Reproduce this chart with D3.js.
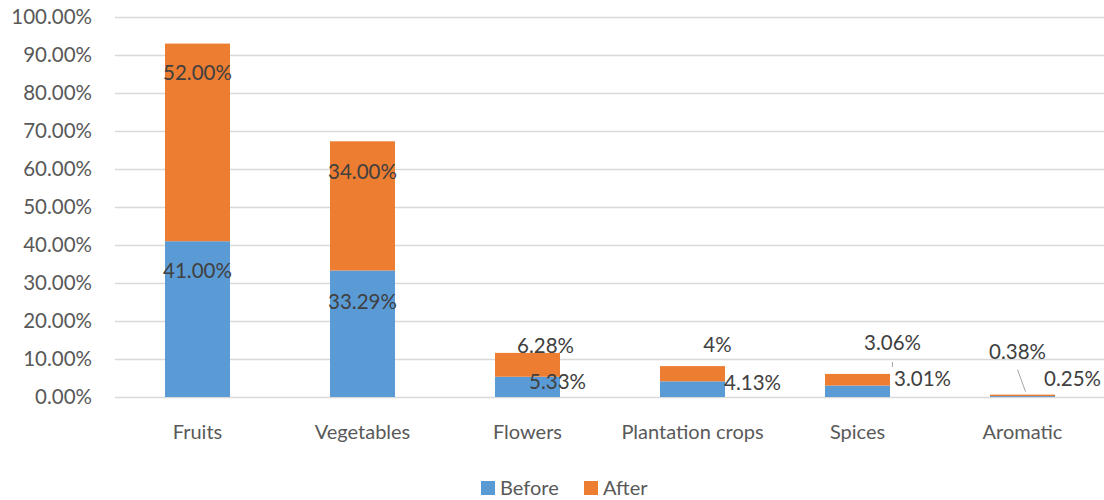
<!DOCTYPE html>
<html>
<head>
<meta charset="utf-8">
<script src="https://cdn.jsdelivr.net/npm/d3@7"></script>
<style>
  body { margin: 0; background: #fff; }
  text { font-family: Lato, "Open Sans", sans-serif; }
</style>
</head>
<body>
<script>
var categories = ["Fruits", "Vegetables", "Flowers", "Plantation crops", "Spices", "Aromatic"];
var before = [0.41, 0.3329, 0.0533, 0.0413, 0.0301, 0.0025];
var after = [0.52, 0.34, 0.0628, 0.04, 0.0306, 0.0038];
var beforeLabels = ["41.00%", "33.29%", "5.33%", "4.13%", "3.01%", "0.25%"];
var afterLabels = ["52.00%", "34.00%", "6.28%", "4%", "3.06%", "0.38%"];
var yTicks = [0, 0.1, 0.2, 0.3, 0.4, 0.5, 0.6, 0.7, 0.8, 0.9, 1.0];

// label nudges (px) relative to band centre / segment top, as placed in the original
var beforeNudge = [[0, 29], [0, 31], [30, 5], [60, 1], [65, -7], [50, -17]];
var afterNudge = [[0, 29], [0, 30], [18, -7], [25, -21], [35, -31], [-5, -43]];

var width = 1104,
    height = 500,
    plotLeft = 115, plotRight = 1105, plotTop = 17, plotBottom = 397;

var svg = d3.select("body").append("svg")
    .attr("width", width)
    .attr("height", height);

var x = d3.scaleBand()
    .domain(categories)
    .range([plotLeft, plotRight])
    .paddingInner(0.606)
    .paddingOuter(0.303);

var y = d3.scaleLinear()
    .domain([0, 1])
    .range([plotBottom, plotTop]);

// gridlines
svg.selectAll(".grid")
    .data(yTicks)
  .enter().append("line")
    .attr("x1", plotLeft)
    .attr("x2", plotRight)
    .attr("y1", function(d) { return Math.round(y(d)) + 0.5; })
    .attr("y2", function(d) { return Math.round(y(d)) + 0.5; })
    .attr("stroke", "#d9d9d9")
    .attr("stroke-width", 1.3);

svg.selectAll(".ytick")
    .data(yTicks)
  .enter().append("text")
    .attr("x", 92)
    .attr("y", function(d) { return y(d); })
    .attr("dy", "0.36em")
    .attr("text-anchor", "end")
    .attr("fill", "#595959")
    .attr("font-size", 20.5)
    .text(function(d) { return (d * 100).toFixed(2) + "%"; });

var rows = categories.map(function(c, i) {
  return { cat: c, before: before[i], after: after[i] };
});
var stacked = d3.stack().keys(["before", "after"])(rows);
var colors = { before: "#5b9bd5", after: "#ed7d31" };

svg.selectAll(".series")
    .data(stacked)
  .enter().append("g")
    .attr("fill", function(d) { return colors[d.key]; })
  .selectAll("rect")
    .data(function(d) { return d; })
  .enter().append("rect")
    .attr("x", function(d) { return x(d.data.cat); })
    .attr("width", x.bandwidth())
    .attr("y", function(d) { return y(d[1]); })
    .attr("height", function(d) { return y(d[0]) - y(d[1]); });

// leader lines for the small stacks
var lead = svg.append("g").attr("stroke", "#a6a6a6").attr("stroke-width", 1);
var sx = x("Spices") + x.bandwidth() / 2;
lead.append("line")
    .attr("x1", sx + 35).attr("x2", sx + 35)
    .attr("y1", y(before[4] + after[4]) - 12).attr("y2", y(before[4] + after[4]) - 7);
var ax = x("Aromatic") + x.bandwidth() / 2;
lead.append("line")
    .attr("x1", ax - 5).attr("y1", y(before[5] + after[5]) - 25)
    .attr("x2", ax + 3).attr("y2", y(before[5] + after[5]) - 3);

function addLabels(layer, labels, nudge) {
  svg.selectAll(".lbl-" + layer.key)
      .data(layer)
    .enter().append("text")
      .attr("x", function(d, i) { return x(d.data.cat) + x.bandwidth() / 2 + nudge[i][0]; })
      .attr("y", function(d, i) { return y(d[1]) + nudge[i][1]; })
      .attr("dy", "0.36em")
      .attr("text-anchor", "middle")
      .attr("fill", "#404040")
      .attr("font-size", 20.5)
      .text(function(d, i) { return labels[i]; });
}
addLabels(stacked[0], beforeLabels, beforeNudge);
addLabels(stacked[1], afterLabels, afterNudge);

// category labels
svg.selectAll(".cat")
    .data(categories)
  .enter().append("text")
    .attr("x", function(d) { return x(d) + x.bandwidth() / 2; })
    .attr("y", 432)
    .attr("dy", "0.36em")
    .attr("text-anchor", "middle")
    .attr("fill", "#595959")
    .attr("font-size", 20)
    .text(function(d) { return d; });

// legend
var legend = svg.append("g");
var items = [{ name: "Before", key: "before", x: 481 }, { name: "After", key: "after", x: 584 }];
var li = legend.selectAll("g")
    .data(items)
  .enter().append("g")
    .attr("transform", function(d) { return "translate(" + d.x + ",488)"; });
li.append("rect")
    .attr("y", -7)
    .attr("width", 14)
    .attr("height", 14)
    .attr("fill", function(d) { return colors[d.key]; });
li.append("text")
    .attr("x", 19)
    .attr("dy", "0.36em")
    .attr("fill", "#595959")
    .attr("font-size", 20)
    .text(function(d) { return d.name; });
</script>
</body>
</html>
